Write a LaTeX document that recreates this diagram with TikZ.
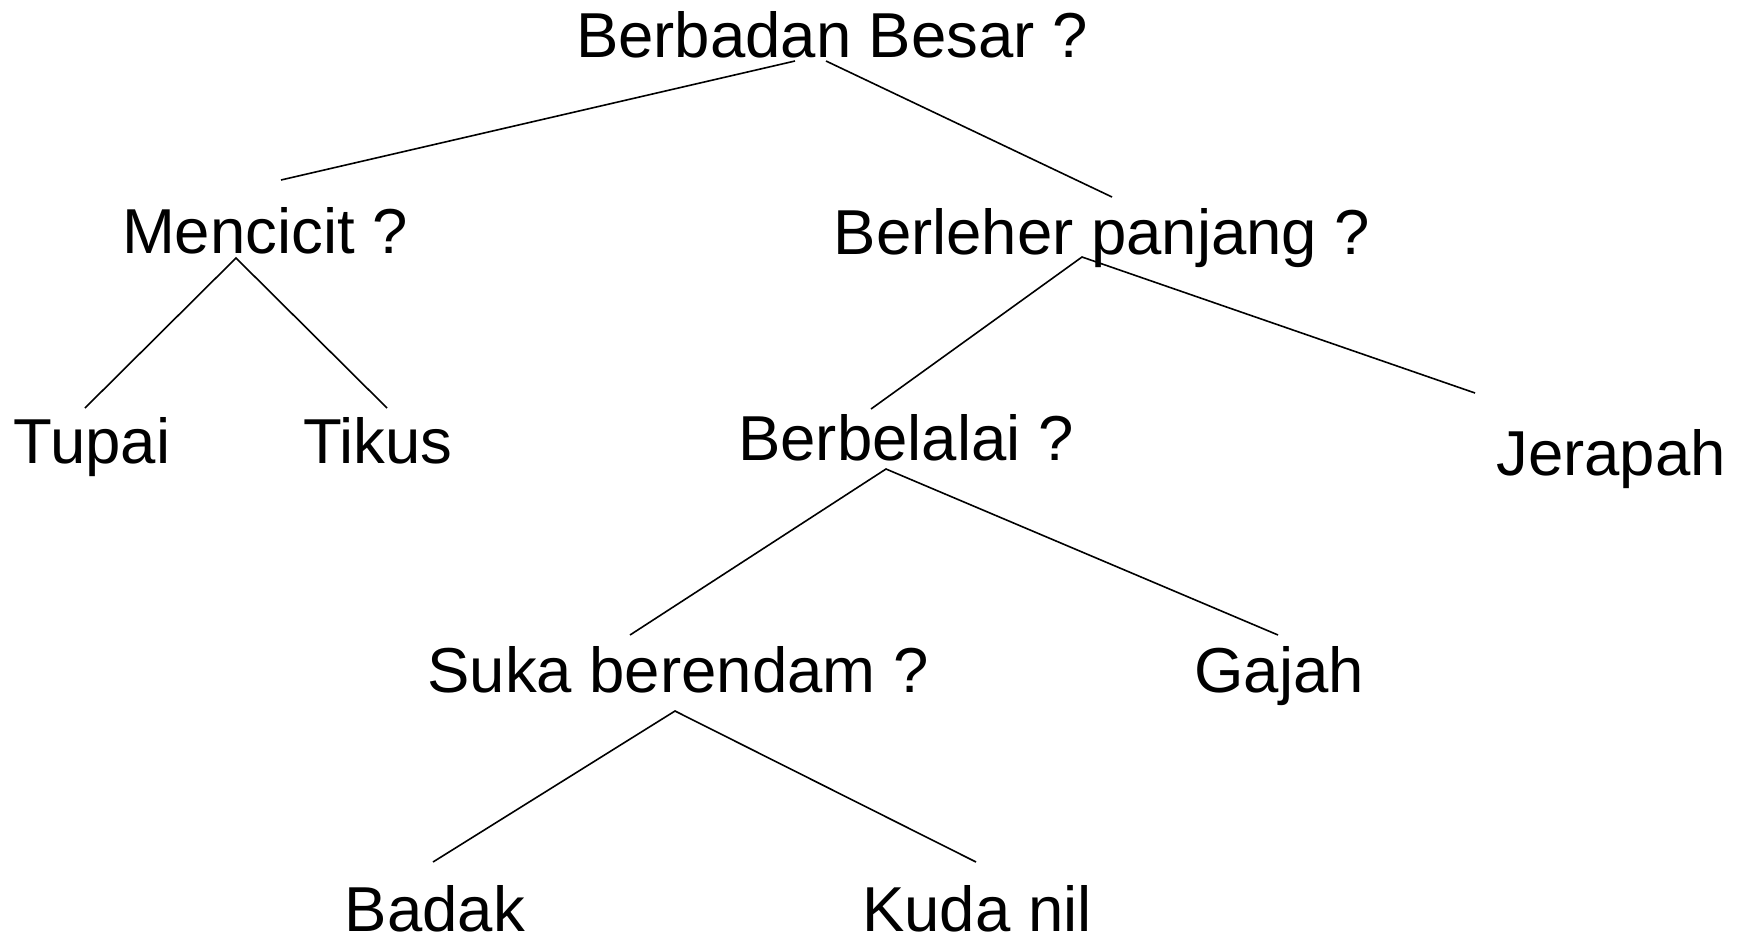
\documentclass[tikz,border=0pt]{standalone}
\usepackage{fontspec}
\setmainfont{Liberation Sans}
\begin{document}
\begin{tikzpicture}[x=1pt,y=-1pt,
  label text/.style={anchor=base,inner sep=0pt,font=\fontsize{63.5}{76}\selectfont},
  branch/.style={draw=black,line width=1.6pt}]
\useasboundingbox (0,0) rectangle (1744,937);

% questions and answers
\node[label text] (root)  at (832,57)  {Berbadan Besar ?};
\node[label text] (mcc)   at (265,253) {Mencicit ?};
\node[label text] (neck)  at (1102,254) {Berleher panjang ?};
\node[label text] (tupai) at (92,463)  {Tupai};
\node[label text] (tikus) at (378,463) {Tikus};
\node[label text] (trunk) at (906,460) {Berbelalai ?};
\node[label text] (jer)   at (1611,475) {Jerapah};
\node[label text] (soak)  at (678,692) {Suka berendam ?};
\node[label text] (gajah) at (1279,692) {Gajah};
\node[label text] (badak) at (435,931) {Badak};
\node[label text] (kuda)  at (977,931) {Kuda nil};

% branch end points
\coordinate (root-l) at (795,61);
\coordinate (root-r) at (826,61);
\coordinate (mcc-top) at (281,180);
\coordinate (neck-top) at (1112,197);
\coordinate (mcc-fork) at (236,258);
\coordinate (tupai-top) at (85,408);
\coordinate (tikus-top) at (387,408);
\coordinate (neck-fork) at (1082,257);
\coordinate (trunk-top) at (871,409);
\coordinate (jer-top) at (1475,393);
\coordinate (trunk-fork) at (886,469);
\coordinate (soak-top) at (630,635);
\coordinate (gajah-top) at (1278,635);
\coordinate (soak-fork) at (675,711);
\coordinate (badak-top) at (433,862);
\coordinate (kuda-top) at (976,862);

% branches
\draw[branch] (root-l) -- (mcc-top);
\draw[branch] (root-r) -- (neck-top);
\draw[branch] (tupai-top) -- (mcc-fork) -- (tikus-top);
\draw[branch] (trunk-top) -- (neck-fork) -- (jer-top);
\draw[branch] (soak-top) -- (trunk-fork) -- (gajah-top);
\draw[branch] (badak-top) -- (soak-fork) -- (kuda-top);
\end{tikzpicture}
\end{document}
